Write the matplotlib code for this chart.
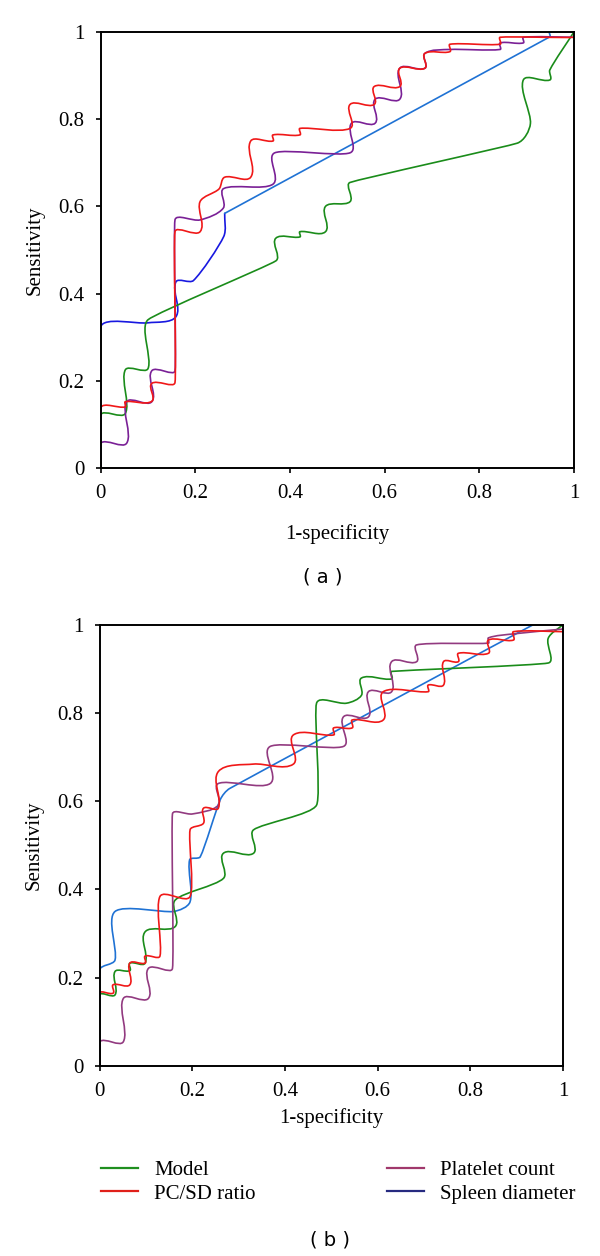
import numpy as np
import matplotlib
matplotlib.use("Agg")
import matplotlib.pyplot as plt
from matplotlib.path import Path
from matplotlib.patches import PathPatch
from matplotlib.lines import Line2D

# ─── Data ─────────────────────────────────────────────────────────────────────

TICKS = [0, 0.2, 0.4, 0.6, 0.8, 1]
TICK_LABELS = ["0", "0.2", "0.4", "0.6", "0.8", "1"]
SERIES = ["Model", "PC/SD ratio", "Platelet count", "Spleen diameter"]

# panel (a)
model_a_x = [0, 0, 0.052, 0.052, 0.100, 0.100, 0.370, 0.370, 0.421, 0.421, 0.475, 0.475,
             0.527, 0.527, 0.880, 0.908, 0.893, 0.949, 0.949, 1.0]
model_a_y = [0, 0.122, 0.125, 0.225, 0.228, 0.340, 0.475, 0.527, 0.530, 0.542, 0.542, 0.600,
             0.611, 0.655, 0.745, 0.790, 0.890, 0.890, 0.913, 1.0]

pcsd_a_x = [0, 0, 0.052, 0.052, 0.108, 0.108, 0.157, 0.157, 0.210, 0.210, 0.250, 0.262,
            0.317, 0.317, 0.364, 0.364, 0.421, 0.421, 0.527, 0.527, 0.578, 0.578, 0.632,
            0.632, 0.685, 0.685, 0.738, 0.738, 0.844, 0.844, 1.0, 1.0]
pcsd_a_y = [0, 0.138, 0.140, 0.152, 0.153, 0.194, 0.196, 0.542, 0.542, 0.611, 0.640, 0.667,
            0.667, 0.750, 0.750, 0.764, 0.764, 0.779, 0.779, 0.834, 0.834, 0.875, 0.875,
            0.917, 0.917, 0.951, 0.955, 0.972, 0.972, 0.988, 0.988, 1.0]

plt_a_x = [0, 0, 0.055, 0.055, 0.108, 0.108, 0.157, 0.157, 0.210, 0.259, 0.260, 0.364,
           0.368, 0.527, 0.530, 0.580, 0.580, 0.632, 0.632, 0.685, 0.685, 0.738, 0.844,
           0.844, 0.893, 0.893, 1.0]
plt_a_y = [0, 0.057, 0.057, 0.152, 0.152, 0.223, 0.223, 0.569, 0.569, 0.596, 0.641, 0.651,
           0.723, 0.723, 0.791, 0.791, 0.846, 0.846, 0.917, 0.917, 0.951, 0.960, 0.960,
           0.975, 0.975, 0.988, 0.988]

spleen_a_low_x = [0, 0, 0.100, 0.159, 0.159, 0.196, 0.260, 0.262]
spleen_a_low_y = [0, 0.324, 0.333, 0.347, 0.427, 0.430, 0.531, 0.584]
spleen_a_high_x = [0.262, 0.949, 0.949, 1.0]
spleen_a_high_y = [0.584, 0.989, 1.0, 1.0]

# panel (b)
model_b_x = [0, 0, 0.033, 0.033, 0.065, 0.065, 0.098, 0.098, 0.163, 0.163, 0.267, 0.267,
             0.332, 0.332, 0.468, 0.468, 0.533, 0.565, 0.565, 0.630, 0.630, 0.968, 0.968, 1.0]
model_b_y = [0, 0.161, 0.161, 0.214, 0.216, 0.233, 0.233, 0.304, 0.316, 0.376, 0.425, 0.482,
             0.482, 0.535, 0.591, 0.822, 0.822, 0.840, 0.879, 0.877, 0.894, 0.913, 0.969, 1.0]

pcsd_b_x = [0, 0, 0.029, 0.029, 0.065, 0.065, 0.098, 0.098, 0.130, 0.130, 0.195, 0.195,
            0.224, 0.224, 0.256, 0.256, 0.332, 0.418, 0.418, 0.505, 0.505, 0.545, 0.545,
            0.612, 0.612, 0.709, 0.709, 0.742, 0.742, 0.774, 0.774, 0.839, 0.839, 0.893,
            0.893, 1.0]
pcsd_b_y = [0, 0.165, 0.165, 0.184, 0.184, 0.233, 0.233, 0.249, 0.249, 0.384, 0.384, 0.535,
            0.550, 0.584, 0.584, 0.667, 0.684, 0.684, 0.750, 0.750, 0.766, 0.766, 0.784,
            0.784, 0.848, 0.848, 0.863, 0.863, 0.916, 0.916, 0.935, 0.935, 0.965, 0.965,
            0.984, 0.984]

plt_b_x = [0, 0, 0.051, 0.051, 0.105, 0.105, 0.157, 0.157, 0.200, 0.256, 0.256, 0.368,
           0.368, 0.526, 0.526, 0.580, 0.580, 0.630, 0.630, 0.684, 0.684, 0.839, 0.839,
           0.893, 1.0]
plt_b_y = [0, 0.055, 0.055, 0.153, 0.153, 0.221, 0.221, 0.571, 0.571, 0.591, 0.640, 0.640,
           0.724, 0.724, 0.791, 0.791, 0.848, 0.848, 0.916, 0.916, 0.954, 0.958, 0.970,
           0.979, 0.990]

spleen_b_x = [0, 0, 0.033, 0.033, 0.159, 0.195, 0.194, 0.217, 0.260, 0.281, 0.936, 1.0]
spleen_b_y = [0, 0.218, 0.240, 0.350, 0.350, 0.372, 0.467, 0.474, 0.603, 0.629, 1.0, 1.0]

# ─── Styles ───────────────────────────────────────────────────────────────────

GREEN = "#1a8c1a"
RED = "#f01818"
PURPLE_A = "#7a2096"
PURPLE_B = "#923a80"
BLUE_DARK = "#1818e0"
BLUE_LIGHT = "#1f72d4"
LEGEND_COLORS = ["#1f8f1f", "#e0201a", "#a0386c", "#262a80"]
LW = 1.2

plt.rcParams.update({
    "font.family": ["Liberation Serif", "DejaVu Serif"],
    "font.size": 15,
    "axes.linewidth": 1.4,
    "xtick.major.size": 3.6,
    "ytick.major.size": 3.6,
    "xtick.major.width": 1.2,
    "ytick.major.width": 1.2,
    "xtick.major.pad": 8,
    "ytick.major.pad": 8,
})


def smooth_curve(ax, xs, ys, color, k=0.3, cap=0.025):
    # smoothed line: cubic Bezier through the points, tangent length limited
    pts = np.column_stack([xs, ys]).astype(float)
    n = len(pts)

    def tangent(i):
        d = pts[min(i + 1, n - 1)] - pts[max(i - 1, 0)]
        norm = np.hypot(*d)
        return d / norm if norm > 0 else d

    verts = [pts[0]]
    codes = [Path.MOVETO]
    for i in range(n - 1):
        p1, p2 = pts[i], pts[i + 1]
        h = min(k * np.hypot(*(p2 - p1)), cap)
        verts += [p1 + tangent(i) * h, p2 - tangent(i + 1) * h, p2]
        codes += [Path.CURVE4] * 3
    ax.add_patch(PathPatch(Path(verts, codes), fill=False, edgecolor=color,
                           lw=LW, capstyle="round", joinstyle="round"))


def style_axes(ax):
    ax.set_xlim(0, 1)
    ax.set_ylim(0, 1)
    ax.set_xticks(TICKS)
    ax.set_xticklabels(TICK_LABELS)
    ax.set_yticks(TICKS)
    ax.set_yticklabels(TICK_LABELS)
    ax.tick_params(direction="out")


fig = plt.figure(figsize=(6, 12.56), dpi=100)

# ─── Panel (a) ────────────────────────────────────────────────────────────────
ax_a = fig.add_axes([0.1678, 0.6274, 0.7888, 0.3471])
smooth_curve(ax_a, spleen_a_low_x, spleen_a_low_y, BLUE_DARK)
smooth_curve(ax_a, spleen_a_high_x, spleen_a_high_y, BLUE_LIGHT)
smooth_curve(ax_a, model_a_x, model_a_y, GREEN)
smooth_curve(ax_a, plt_a_x, plt_a_y, PURPLE_A)
smooth_curve(ax_a, pcsd_a_x, pcsd_a_y, RED)
style_axes(ax_a)
ax_a.set_xlabel("1-specificity", labelpad=15)
ax_a.set_ylabel("Sensitivity", labelpad=10)

# ─── Panel (b) ────────────────────────────────────────────────────────────────
ax_b = fig.add_axes([0.1662, 0.1513, 0.7722, 0.3514])
smooth_curve(ax_b, spleen_b_x, spleen_b_y, BLUE_LIGHT)
smooth_curve(ax_b, model_b_x, model_b_y, GREEN)
smooth_curve(ax_b, plt_b_x, plt_b_y, PURPLE_B)
smooth_curve(ax_b, pcsd_b_x, pcsd_b_y, RED)
style_axes(ax_b)
ax_b.set_xlabel("1-specificity", labelpad=5)
ax_b.set_ylabel("Sensitivity", labelpad=10)

# legend under panel (b)
handles = [Line2D([], [], color=c, lw=1.6) for c in LEGEND_COLORS]
fig.legend(handles, SERIES, ncol=2, loc="center left",
           bbox_to_anchor=(0.155, 0.059), frameon=False,
           handlelength=1.75, handletextpad=0.8, columnspacing=6.3,
           labelspacing=0.2, borderaxespad=0)

fig.text(0.538, 1 - 577 / 1256, "( a )", ha="center", va="center",
         family="DejaVu Sans", fontsize=14)
fig.text(0.55, 1 - 1240 / 1256, "( b )", ha="center", va="center",
         family="DejaVu Sans", fontsize=14)

fig.savefig("out.png", dpi=100)
